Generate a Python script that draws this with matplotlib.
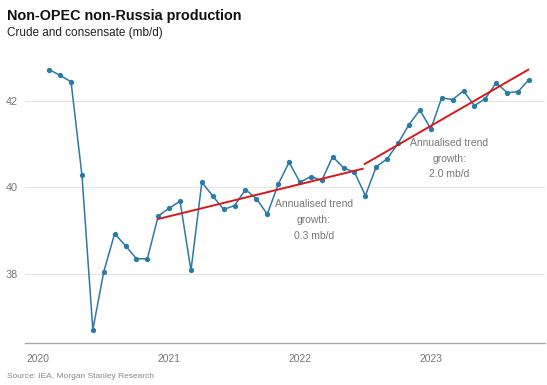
import matplotlib
matplotlib.use("Agg")
import matplotlib.pyplot as plt

plt.rcParams['font.family'] = ['Liberation Sans', 'DejaVu Sans']

# Monthly production, Feb 2020 .. Oct 2023 (mb/d)
production = [42.72, 42.59, 42.44, 40.28, 36.71, 38.05, 38.93, 38.65, 38.35, 38.35,
              39.34, 39.52, 39.68, 38.08, 40.12, 39.80, 39.49, 39.58, 39.95, 39.74,
              39.38, 40.07, 40.58, 40.12, 40.25, 40.16, 40.71, 40.45, 40.35, 39.81,
              40.48, 40.66, 41.02, 41.45, 41.79, 41.35, 42.07, 42.03, 42.23, 41.89,
              42.05, 42.42, 42.19, 42.21, 42.49]
start_year = 2020
start_month = 2  # February
months = [start_year + (start_month - 1 + i) / 12 for i in range(len(production))]

trend1_x = [2020.917, 2022.479]
trend1_y = [39.27, 40.43]
trend2_x = [2022.495, 2023.745]
trend2_y = [40.54, 42.72]

year_ticks = [2020, 2021, 2022, 2023]
y_ticks = [38, 40, 42]

title = "Non-OPEC non-Russia production"
subtitle = "Crude and consensate (mb/d)"
source = "Source: IEA, Morgan Stanley Research"
note1 = "Annualised trend\ngrowth:\n0.3 mb/d"
note2 = "Annualised trend\ngrowth:\n2.0 mb/d"

W, H = 547, 385
fig = plt.figure(figsize=(W / 100, H / 100), dpi=100)
ax = fig.add_axes([25 / W, (H - 342.7) / H, 520 / W, (342.7 - 55) / H])

ax.plot(months, production, color='#2a7aa6', lw=1.1, marker='o', ms=3.8,
        markeredgewidth=0, zorder=3)
ax.plot(trend1_x, trend1_y, color='#d7191c', lw=1.4, zorder=4)
ax.plot(trend2_x, trend2_y, color='#d7191c', lw=1.4, zorder=4)

ax.set_xlim(2019.898, 2023.873)
ax.set_ylim(36.41, 43.06)

ax.set_yticks(y_ticks)
ax.set_yticklabels([str(v) for v in y_ticks])
ax.set_xticks(year_ticks)
ax.set_xticklabels([str(v) for v in year_ticks])
ax.grid(axis='y', color='#e6e6e6', lw=0.9, zorder=0)
ax.tick_params(axis='both', length=0, colors='#777777')
ax.tick_params(axis='y', pad=5, labelsize=7.8)
ax.tick_params(axis='x', pad=8, labelsize=7.4)
for s in ['top', 'right', 'left']:
    ax.spines[s].set_visible(False)
ax.spines['bottom'].set_color('#aaaaaa')
ax.spines['bottom'].set_linewidth(1.0)

ax.text(2022.107, 39.245, note1, ha='center', va='center', fontsize=7.5,
        color='#777777', linespacing=1.7, zorder=5)
ax.text(2023.143, 40.66, note2, ha='center', va='center', fontsize=7.5,
        color='#777777', linespacing=1.7, zorder=5)

fig.text(7 / W, 1 - 16 / H, title, fontsize=10.4, fontweight='bold',
         color='#111111', ha='left', va='center')
fig.text(7 / W, 1 - 33 / H, subtitle, fontsize=8.5, color='#222222',
         ha='left', va='center')
fig.text(7 / W, 1 - 376.7 / H, source, fontsize=6.0, color='#888888',
         ha='left', va='center')

fig.savefig('out.png', dpi=100, facecolor='white')
